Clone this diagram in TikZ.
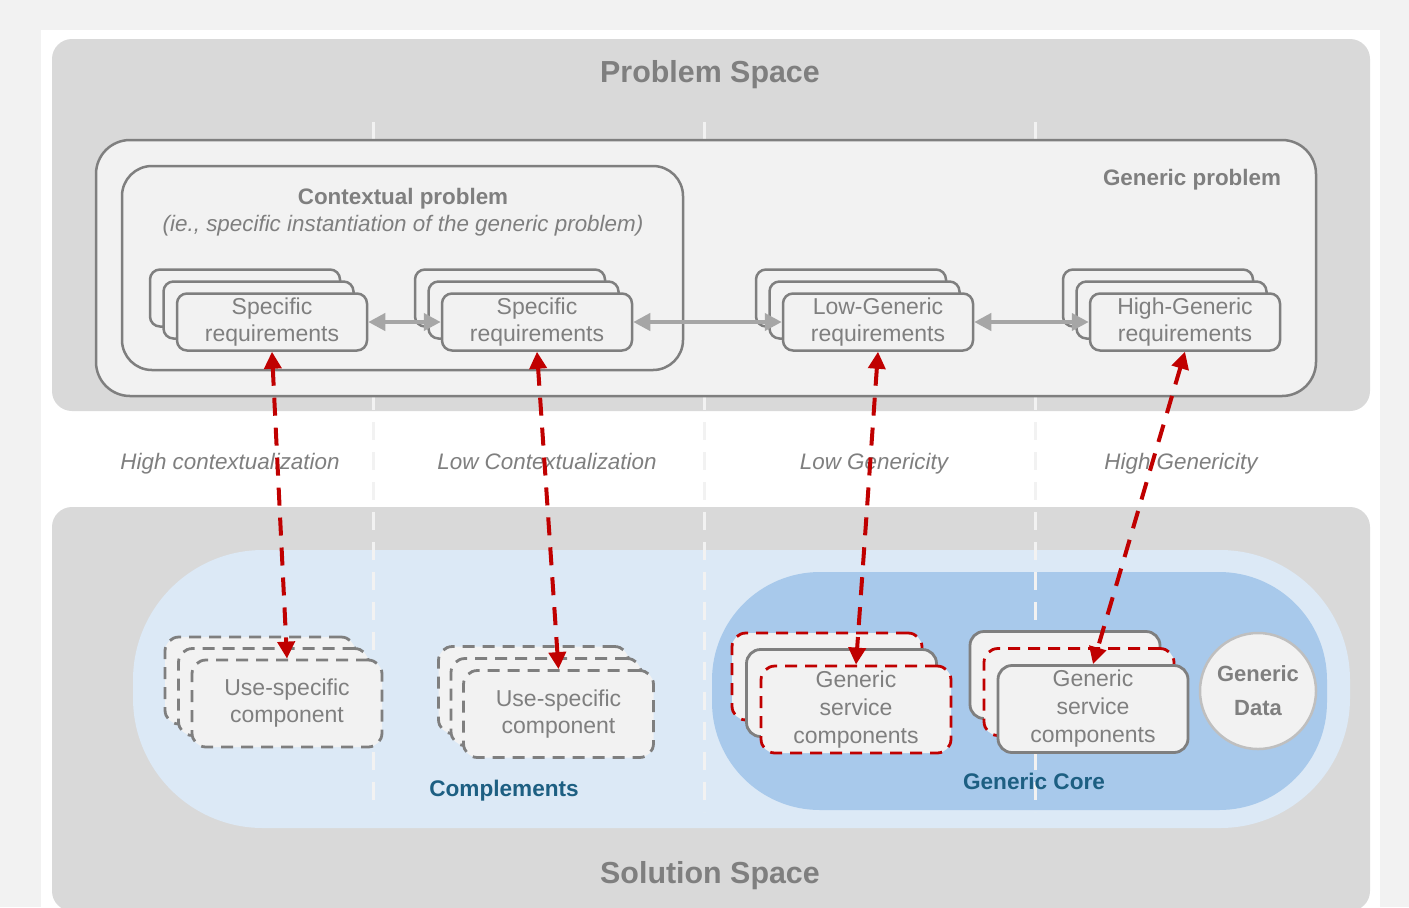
\documentclass[tikz,border=0pt]{standalone}
\usepackage{fontspec}
\setmainfont{Liberation Sans}
\usetikzlibrary{arrows.meta}
\definecolor{pagebg}{HTML}{F2F2F2}
\definecolor{spacegray}{HTML}{D9D9D9}
\definecolor{boxfill}{HTML}{F2F2F2}
\definecolor{linegray}{HTML}{7F7F7F}
\definecolor{txtgray}{HTML}{7F7F7F}
\definecolor{arrowgray}{HTML}{A6A6A6}
\definecolor{redc}{HTML}{C00000}
\definecolor{lightblue}{HTML}{DCE9F6}
\definecolor{coreblue}{HTML}{A8C9EB}
\definecolor{titleblue}{HTML}{1D5F82}
\definecolor{circlegray}{HTML}{BFBFBF}
\begin{document}
\begin{tikzpicture}[x=0.5pt,y=-0.5pt,
  reqbox/.style={draw=linegray, line width=1.25pt, fill=boxfill, rounded corners=5pt,
    minimum width=95pt, minimum height=28.5pt, inner sep=1pt, align=center,
    text=txtgray, font=\fontsize{11.5}{13.5}\selectfont},
  compbox/.style={line width=1.4pt, fill=boxfill, rounded corners=7pt,
    minimum width=95pt, minimum height=43.5pt, inner sep=1pt, align=center,
    text=txtgray, font=\fontsize{11.5}{13.5}\selectfont},
  graydash/.style={compbox, draw=linegray, dash pattern=on 6pt off 4pt},
  reddash/.style={compbox, draw=redc, dash pattern=on 6pt off 4pt},
  graysolid/.style={compbox, draw=linegray},
  svctext/.style={font=\fontsize{11.5}{14}\selectfont},
  sepline/.style={draw=pagebg, line width=1.5pt, dash pattern=on 9pt off 6pt},
  grayarrow/.style={draw=arrowgray, line width=2pt, {Triangle[length=8.5pt,width=8.5pt]}-{Triangle[length=8.5pt,width=8.5pt]}},
  redarrow/.style={draw=redc, line width=2pt, dash pattern=on 9pt off 6pt, {Triangle[length=8.5pt,width=8.5pt]}-{Triangle[length=8.5pt,width=8.5pt]}},
  bigtitle/.style={text=txtgray, inner sep=0pt, text height=12.9pt, text depth=2pt, font=\bfseries\fontsize{15.2}{18}\selectfont},
  boldlabel/.style={text=txtgray, inner sep=0pt, text height=10pt, text depth=2pt, font=\bfseries\fontsize{11.2}{14}\selectfont},
  itlabel/.style={text=txtgray, inner sep=0pt, text height=10pt, text depth=2pt, font=\itshape\fontsize{11.2}{14}\selectfont},
  bluelabel/.style={text=titleblue, inner sep=0pt, text height=10pt, text depth=2pt, font=\bfseries\fontsize{11.3}{14}\selectfont}
]
\useasboundingbox (0,0) rectangle (1409,907);
% backgrounds
\fill[pagebg] (0,0) rectangle (1409,907);
\fill[white] (41,30) rectangle (1380,907);
\fill[spacegray, rounded corners=10pt] (52,39) rectangle (1370,411);
\fill[spacegray, rounded corners=10pt] (52,507) rectangle (1370,911);
\fill[lightblue, rounded corners=65pt] (133,550) rectangle (1350,828);
\fill[coreblue, rounded corners=54pt] (712,572) rectangle (1327,810);
% separators
\draw[sepline] (373,122) -- (373,812);
\draw[sepline] (704,122) -- (704,812);
\draw[sepline] (1035,122) -- (1035,812);
% problem boxes
\draw[draw=linegray, fill=boxfill, line width=1.25pt, rounded corners=17pt] (96,140) rectangle (1316,396);
\draw[draw=linegray, fill=boxfill, line width=1.25pt, rounded corners=15pt] (122,166) rectangle (683,370);
% titles
\node[bigtitle] (ps) at (710,72) {Problem Space};
\node[bigtitle] (ss) at (710,873) {Solution Space};
\node[boldlabel] (cp) at (403,196) {Contextual problem};
\node[itlabel] (cps) at (403,223) {(ie., specific instantiation of the generic problem)};
\node[boldlabel] (gp) at (1192,177) {Generic problem};
% requirement stacks
\node[reqbox] (r1c) at (245,298) {};
\node[reqbox] (r1b) at (258.5,310) {};
\node[reqbox] (r1) at (272,322) {Specific\\requirements};
\node[reqbox] (r2c) at (510,298) {};
\node[reqbox] (r2b) at (523.5,310) {};
\node[reqbox] (r2) at (537,322) {Specific\\requirements};
\node[reqbox] (r3c) at (851,298) {};
\node[reqbox] (r3b) at (864.5,310) {};
\node[reqbox] (r3) at (878,322) {Low-Generic\\requirements};
\node[reqbox] (r4c) at (1158,298) {};
\node[reqbox] (r4b) at (1171.5,310) {};
\node[reqbox] (r4) at (1185,322) {High-Generic\\requirements};
\draw[grayarrow] (r1.east) -- (r2.west);
\draw[grayarrow] (r2.east) -- (r3.west);
\draw[grayarrow] (r3.east) -- (r4.west);
% middle labels
\node[itlabel] (l1) at (230,461) {High contextualization};
\node[itlabel] (l2) at (547,461) {Low Contextualization};
\node[itlabel] (l3) at (874,461) {Low Genericity};
\node[itlabel] (l4) at (1181,461) {High Genericity};
% component stacks
\node[graydash] (cac) at (260,680.5) {};
\node[graydash] (cab) at (273.5,692) {};
\node[graydash] (ca) at (287,703.5) {Use-specific\\component};
\node[graydash] (cbc) at (533.5,690) {};
\node[graydash] (cbb) at (546,702) {};
\node[graydash] (cb) at (558.5,714) {Use-specific\\component};
\node[reddash] (ccc) at (827,676.5) {};
\node[graysolid] (ccb) at (841.5,693) {};
\node[reddash, svctext] (cc) at (856,709.5) {Generic\\service\\components};
\node[graysolid] (cdc) at (1065,675) {};
\node[reddash] (cdb) at (1079,692) {};
\node[graysolid, svctext] (cd) at (1093,709) {Generic\\service\\components};
\node[circle, draw=circlegray, line width=1.25pt, fill=boxfill, minimum size=58pt, inner sep=0pt,
  align=center, text=txtgray, font=\bfseries\fontsize{11}{17}\selectfont] (gd) at (1258,691) {Generic\\Data};
\node[bluelabel] (cmp) at (504,788) {Complements};
\node[bluelabel] (gc) at (1034,781) {Generic Core};
% red links
\draw[redarrow] (r1.south) -- (ca.north);
\draw[redarrow] (r2.south) -- (cb.north);
\draw[redarrow] (r3.south) -- (cc.north);
\draw[redarrow] (r4.south) -- (cd.north);
\end{tikzpicture}
\end{document}
